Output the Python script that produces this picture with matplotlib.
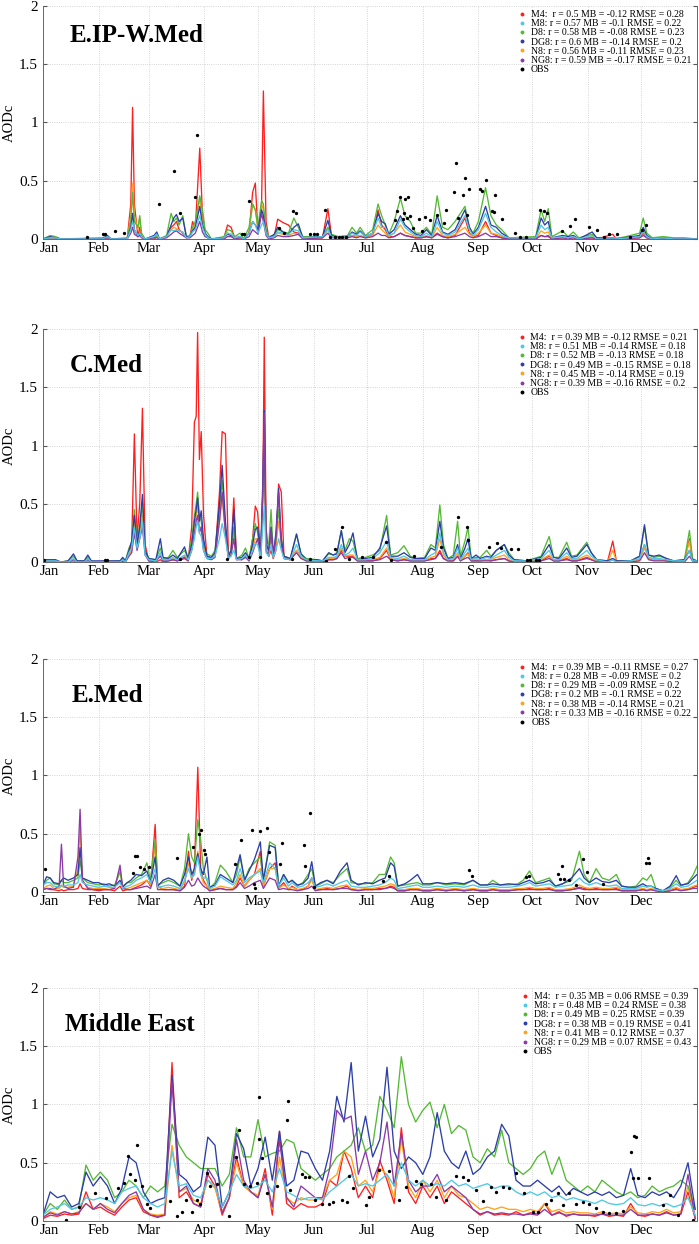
import numpy as np
import matplotlib
matplotlib.use('Agg')
import matplotlib.pyplot as plt
from matplotlib.lines import Line2D
from matplotlib.transforms import ScaledTranslation

plt.rcParams['font.family'] = ['Liberation Serif', 'DejaVu Serif']

# axe du temps (jour de l'annee)
month_days = [0, 31, 59, 90, 120, 151, 181, 212, 243, 273, 304, 334]
month_names = ['Jan', 'Feb', 'Mar', 'Apr', 'May', 'Jun',
               'Jul', 'Aug', 'Sep', 'Oct', 'Nov', 'Dec']

model_names = ['M4', 'M8', 'D8', 'DG8', 'N8', 'NG8']
model_colors = ['#ff1f1f', '#4fc8e6', '#55b935', '#2c3ea8', '#ffa31a', '#8b3aa6']

# ---------------- E.IP-W.Med ----------------
eip_days = [0, 4, 7, 10, 33, 36, 38, 47, 49, 50,
            51, 53, 54, 55, 57, 62, 63.5, 65, 69, 71.5,
            73, 74.5, 76, 78, 80, 82, 83.5, 85, 87.5, 89,
            90.5, 92, 94, 101, 103, 105, 107, 110, 112, 115,
            117, 118.5, 120, 122, 123, 124.5, 126, 129, 131, 134,
            137, 140, 142.5, 145, 156, 159, 161, 165, 170, 172.5,
            175, 177, 180, 184, 187, 189, 191, 193, 196, 199.5,
            202, 205, 208, 211, 214, 217, 220, 223, 226, 230,
            235.5, 238, 240, 243, 247, 250, 253, 256, 260, 275,
            278, 280, 282, 284, 290, 293, 296, 299, 306.5, 309,
            318, 320, 333, 335, 337, 340, 346, 352, 358, 365]
eip_m4 = [0, .01, .01, 0, 0, 0, 0, 0, .3, 1.13,
          .3, .02, .1, .02, 0, 0, .02, 0, .02, .1,
          .12, .15, .08, .05, .01, .02, .15, .08, .78, .2,
          .05, .01, 0, .01, .12, .1, .01, .01, 0, .05,
          .4, .48, .05, .3, 1.27, .15, .01, .02, .17, .14,
          .12, .06, .05, .01, .01, .26, .03, .01, .02, .03,
          .02, .03, .01, .03, .25, .12, .08, .02, .02, .05,
          .03, .02, .01, .01, .02, .01, .05, .02, .01, .03,
          .18, .05, .02, .03, .15, .05, .03, .01, 0, 0,
          .03, .02, .03, 0, .01, .01, .01, 0, .01, 0,
          .04, 0, .01, .05, .01, 0, .01, 0, 0, 0]
eip_m8 = [0, .01, .01, 0, 0, .02, 0, 0, .08, .15,
          .08, .03, .05, .02, 0, .02, .04, 0, .02, .08,
          .07, .08, .07, .06, .01, .02, .06, .08, .2, .1,
          .04, .01, 0, .01, .05, .04, .01, .02, 0, .05,
          .15, .12, .05, .12, .15, .05, .01, .02, .06, .05,
          .04, .08, .07, .01, .02, .08, .02, .01, .02, .05,
          .03, .06, .02, .05, .18, .1, .1, .03, .05, .17,
          .1, .06, .03, .02, .05, .02, .15, .05, .03, .06,
          .2, .08, .03, .08, .22, .1, .06, .03, .01, .01,
          .12, .08, .1, .01, .02, .01, .02, 0, .03, 0,
          0, 0, .02, .06, .02, 0, .01, 0, 0, 0]
eip_d8 = [0, .03, .02, 0, .01, .02, 0, .01, .15, .40,
          .15, .1, .2, .05, 0, .01, .03, 0, .03, .22,
          .15, .18, .12, .2, .02, .03, .1, .15, .37, .25,
          .08, .05, 0, .02, .08, .07, .02, .05, 0, .1,
          .3, .25, .1, .33, .3, .08, .02, .03, .08, .06,
          .05, .18, .1, .02, .02, .1, .04, .02, .03, .1,
          .05, .1, .03, .08, .3, .2, .12, .04, .15, .35,
          .2, .15, .05, .05, .1, .04, .37, .1, .08, .15,
          .28, .1, .05, .15, .44, .2, .12, .08, .01, .02,
          .25, .15, .26, .02, .07, .02, .06, .01, .04, .01,
          .01, 0, .05, .18, .05, .01, .02, .01, .01, 0]
eip_dg8 = [0, .02, .01, 0, 0, .03, 0, 0, .1, .22,
           .08, .02, .05, .02, 0, .03, .06, 0, .02, .12,
           .18, .21, .15, .18, .02, .02, .07, .1, .28, .12,
           .05, .02, 0, .01, .04, .03, .01, .02, 0, .05,
           .15, .12, .08, .25, .2, .05, .01, .04, .1, .06,
           .04, .1, .13, .01, .02, .16, .03, .01, .02, .06,
           .04, .07, .02, .05, .22, .15, .13, .04, .08, .2,
           .12, .08, .04, .03, .08, .03, .2, .06, .04, .08,
           .25, .1, .04, .1, .28, .12, .1, .05, .01, .01,
           .18, .12, .15, .01, .03, .02, .03, 0, .06, .01,
           0, 0, .03, .1, .03, 0, .01, 0, 0, 0]
eip_n8 = [0, .01, .01, 0, 0, .01, 0, 0, .2, .48,
          .2, .08, .18, .03, 0, .01, .02, 0, .02, .08,
          .1, .09, .07, .06, .01, .02, .08, .12, .35, .15,
          .05, .01, 0, .01, .05, .04, .01, .01, 0, .05,
          .3, .25, .08, .3, .25, .05, .01, .02, .05, .04,
          .03, .05, .04, .01, .01, .08, .02, .01, .01, .03,
          .02, .03, .01, .03, .12, .08, .05, .02, .05, .12,
          .06, .04, .02, .01, .03, .01, .1, .03, .02, .04,
          .1, .04, .02, .05, .12, .05, .04, .02, 0, 0,
          .07, .05, .06, 0, .01, .01, .01, 0, .02, 0,
          .01, .01, .02, .08, .02, 0, .01, 0, 0, 0]
eip_ng8 = [0, .01, .01, 0, 0, .01, 0, 0, .05, .10,
           .04, .02, .03, .01, 0, .01, .01, 0, .01, .04,
           .06, .07, .05, .03, .01, .01, .03, .05, .15, .06,
           .02, .01, 0, 0, .02, .02, 0, .01, 0, .02,
           .08, .06, .04, .22, .15, .03, 0, .01, .03, .02,
           .02, .03, .04, 0, .01, .05, .01, .01, .01, .02,
           .01, .02, .01, .02, .05, .03, .03, .01, .02, .05,
           .03, .02, .01, .01, .02, .01, .04, .02, .01, .02,
           .05, .02, .01, .02, .05, .02, .02, .01, 0, 0,
           .03, .02, .02, 0, .01, 0, .01, 0, .01, 0,
           0, 0, .01, .03, .01, 0, 0, 0, 0, 0]
eip_obs_days = [24.4, 33.7, 34.5, 40.2, 45.2, 64.5, 73, 76.4, 85, 86,
                111, 112, 115, 132, 134.6, 139.8, 141.3, 149, 151, 153,
                157.5, 160, 163, 165, 167, 169, 196.6, 197.6, 199.4, 200.9,
                201.3, 201.8, 203.1, 203.7, 205, 206.5, 209.7, 211.5, 213.4, 215.8,
                219.9, 223.6, 225.1, 229.6, 230.7, 231.5, 234.4, 235.7, 237.6, 236.5,
                244.1, 245, 247.5, 250.6, 251.9, 252.5, 256.2, 263.7, 266.5, 269.8,
                277.6, 279.5, 281.4, 289.7, 294.4, 297.2, 304.6, 309.3, 313, 315.8,
                320.5, 327.9, 334.4, 336.3]
eip_obs = [.02, .04, .04, .07, .05, .30, .58, .22, .36, .89,
           .04, .04, .33, .09, .05, .24, .22, .04, .04, .04,
           .25, .02, .02, .02, .02, .02, .16, .24, .36, .17,
           .22, .34, .18, .36, .20, .09, .17, .07, .19, .16,
           .21, .14, .25, .40, .65, .18, .38, .52, .43, .21,
           .43, .41, .51, .24, .23, .38, .17, .05, .02, .02,
           .25, .24, .22, .07, .11, .17, .10, .08, .02, .04,
           .04, .02, .08, .12]
eip_stats = ['r = 0.5 MB = -0.12 RMSE = 0.28', 'r = 0.57 MB = -0.1 RMSE = 0.22',
             'r = 0.58 MB = -0.08 RMSE = 0.23', 'r = 0.6 MB = -0.14 RMSE = 0.2',
             'r = 0.56 MB = -0.11 RMSE = 0.23', 'r = 0.59 MB = -0.17 RMSE = 0.21']

# ---------------- C.Med ----------------
cmed_days = [0, 7, 10, 14, 17, 19, 23, 25, 27, 43,
             44.5, 46, 48, 49.5, 51, 52.5, 54, 55.5, 57, 59,
             63, 65.5, 67, 70, 72.5, 75, 79, 81, 83, 84.5,
             85.5, 86.3, 87.3, 88.3, 89.6, 91.5, 94, 96, 98.5, 100,
             101.8, 103.5, 105, 106.5, 108, 111, 113, 115, 117, 118.5,
             119.8, 121.5, 122.7, 123.5, 124.5, 126, 127.3, 128.5, 130, 131.5,
             133, 134.5, 138, 141.5, 144, 147, 153, 156, 159.5, 162,
             164, 166.5, 168.5, 171, 173, 175.5, 180, 184, 188, 191.8,
             194, 198, 201.5, 205, 208, 213, 216.5, 219, 221.5, 223.5,
             226, 229, 231.4, 233, 235.5, 237.2, 239, 241.7, 244, 247.6,
             250, 253, 257.5, 260, 263, 270, 278, 282.5, 285, 288,
             292.3, 295, 298, 303.5, 306, 309, 315, 318, 320, 328,
             333, 335.7, 338, 341, 344, 348, 352, 358, 360.8, 362.5, 365]
cmed_m4 = [0, 0, 0, 0, 0, 0, 0, 0, 0, 0,
           .01, 0, .08, .15, 1.1, .2, .5, 1.32, .15, .01,
           0, .02, 0, .01, .02, .01, .03, .01, .3, 1.2,
           1.25, 1.97, .88, 1.12, .4, .05, .03, .05, .6, 1.12,
           1.1, .05, .1, .55, .03, .02, .05, .01, .2, .48,
           .43, .05, .6, 1.93, .3, .05, .1, .03, .1, .67,
           .6, .05, .02, .1, .04, .01, .01, 0, .02, .02,
           .03, .1, .05, .05, .05, .01, .01, .01, .03, .1,
           .02, .01, .02, .01, .01, .01, .03, .03, .1, .03,
           .01, .01, .05, .01, .05, .08, .01, .01, .01, .02,
           .01, .02, .03, .01, 0, 0, .01, .05, .01, .01,
           .03, .01, .01, .04, .02, .01, 0, .18, .01, 0,
           .02, .15, .03, .02, .02, .01, 0, .01, .2, .02, 0]
cmed_m8 = [.01, .01, 0, 0, .03, 0, 0, .03, 0, 0,
           .02, 0, .08, .12, .3, .12, .2, .35, .06, .02,
           .01, .08, .02, .02, .04, .02, .06, .02, .1, .2,
           .3, .35, .25, .22, .1, .03, .03, .05, .2, .33,
           .2, .03, .05, .1, .02, .03, .06, .02, .1, .16,
           .15, .04, .3, .48, .08, .05, .15, .04, .1, .2,
           .1, .03, .02, .15, .05, .02, .01, .01, .04, .04,
           .05, .15, .06, .08, .12, .02, .02, .03, .08, .18,
           .04, .03, .05, .02, .02, .02, .06, .08, .25, .08,
           .02, .03, .12, .02, .08, .12, .02, .03, .02, .04,
           .03, .06, .1, .04, .01, .01, .03, .1, .02, .02,
           .08, .03, .03, .1, .05, .02, 0, .02, 0, .01,
           .03, .15, .04, .03, .03, .02, .01, .01, .1, .01, .01]
cmed_d8 = [.01, .01, 0, .01, .05, .01, .01, .04, 0, .01,
           .03, .01, .12, .17, .45, .18, .3, .5, .1, .03,
           .02, .12, .03, .04, .1, .04, .1, .03, .2, .4,
           .5, .6, .4, .35, .15, .07, .05, .1, .45, .7,
           .3, .05, .1, .3, .03, .06, .12, .03, .2, .33,
           .25, .06, .6, 1.0, .15, .15, .45, .08, .2, .45,
           .2, .05, .03, .24, .07, .03, .02, .01, .07, .06,
           .08, .27, .1, .2, .18, .03, .04, .06, .1, .4,
           .06, .08, .14, .05, .03, .04, .15, .12, .49, .15,
           .03, .06, .35, .05, .18, .3, .03, .04, .04, .1,
           .05, .1, .15, .08, .02, .01, .05, .22, .04, .04,
           .17, .05, .06, .17, .08, .02, .01, .03, .01, .01,
           .05, .3, .06, .04, .05, .03, .01, .02, .27, .03, .01]
cmed_dg8 = [.02, .02, 0, .01, .07, .01, .01, .06, .01, .01,
            .04, .01, .1, .18, .4, .15, .3, .58, .1, .03,
            .02, .2, .04, .03, .06, .03, .13, .03, .15, .35,
            .45, .55, .35, .44, .2, .05, .04, .08, .5, .83,
            .35, .05, .1, .45, .03, .04, .08, .03, .15, .28,
            .3, .06, .7, 1.3, .15, .1, .3, .06, .25, .63,
            .2, .05, .03, .24, .07, .02, .02, .01, .08, .06,
            .07, .27, .08, .15, .25, .02, .03, .04, .12, .31,
            .05, .05, .08, .04, .03, .03, .12, .1, .35, .12,
            .03, .04, .15, .03, .12, .2, .03, .06, .03, .05,
            .04, .1, .15, .06, .02, .01, .04, .15, .04, .03,
            .12, .04, .05, .15, .08, .02, .01, .03, .01, .01,
            .05, .32, .06, .05, .06, .03, .01, .02, .1, .02, .01]
cmed_n8 = [0, .01, 0, 0, .02, 0, 0, .02, 0, 0,
           .02, 0, .06, .1, .35, .12, .25, .4, .08, .02,
           .01, .06, .02, .02, .03, .02, .05, .02, .12, .3,
           .4, .48, .3, .3, .12, .04, .03, .05, .35, .55,
           .25, .03, .08, .25, .02, .03, .06, .02, .12, .2,
           .2, .04, .5, .8, .1, .06, .2, .04, .15, .35,
           .15, .03, .02, .1, .04, .01, .01, 0, .03, .03,
           .04, .12, .05, .06, .06, .01, .02, .02, .04, .12,
           .03, .02, .03, .02, .01, .01, .04, .05, .2, .06,
           .01, .02, .08, .01, .05, .07, .01, .02, .01, .02,
           .02, .04, .06, .02, 0, 0, .02, .06, .01, .01,
           .05, .02, .02, .06, .03, .01, 0, .1, .01, 0,
           .02, .12, .03, .02, .02, .01, 0, .01, .18, .01, 0]
cmed_ng8 = [.01, .01, 0, 0, .02, 0, 0, .02, 0, 0,
            .01, 0, .05, .08, .25, .1, .2, .3, .06, .01,
            .01, .05, .01, .01, .02, .01, .04, .01, .1, .25,
            .35, .4, .25, .3, .1, .03, .02, .04, .35, .6,
            .25, .03, .06, .2, .02, .02, .04, .01, .08, .15,
            .2, .04, .6, 1.28, .1, .05, .28, .04, .2, .6,
            .15, .03, .02, .08, .03, .01, .01, 0, .02, .02,
            .03, .08, .03, .04, .04, .01, .01, .01, .02, .05,
            .02, .01, .02, .01, .01, .01, .02, .03, .08, .03,
            .01, .01, .05, .01, .03, .04, .01, .01, .01, .01,
            .01, .02, .03, .01, 0, 0, .01, .03, .01, .01,
            .02, .01, .01, .03, .02, 0, 0, .02, 0, 0,
            .01, .08, .02, .01, .01, .01, 0, 0, .05, .01, 0]
cmed_obs_days = [0.5, 34.7, 36, 76.6, 102.6, 115, 121, 139, 149.2, 158,
                 163, 167, 171, 178, 184, 191.4, 194, 207, 222, 231.4,
                 236.4, 237, 248.7, 253.5, 255.6, 261, 265, 270, 272, 275, 277]
cmed_obs = [.02, .02, .02, .03, .03, .04, .04, .03, .03, .01,
            .11, .30, .03, .04, .04, .17, .02, .05, .13, .39,
            .30, .19, .13, .16, .12, .11, .11, .02, .02, .02, .02]
cmed_stats = ['r = 0.39 MB = -0.12 RMSE = 0.21', 'r = 0.51 MB = -0.14 RMSE = 0.18',
              'r = 0.52 MB = -0.13 RMSE = 0.18', 'r = 0.49 MB = -0.15 RMSE = 0.18',
              'r = 0.45 MB = -0.14 RMSE = 0.19', 'r = 0.39 MB = -0.16 RMSE = 0.2']

# ---------------- E.Med ----------------
emed_days = [0, 2, 4, 6, 9, 10.3, 11.5, 14, 17, 19.5,
             20.7, 22, 25, 28, 31, 34, 37, 40, 43, 44.5,
             47, 49, 52, 55, 58, 60, 62.6, 64, 67, 70,
             73, 76.5, 79, 81.2, 83, 84.5, 86.4, 88, 89.5, 91.5,
             93, 96, 99, 102, 106, 108, 110, 112.5, 115, 118,
             121.3, 123, 126.5, 129.6, 131.5, 134.3, 137, 139, 142, 145,
             148, 150, 152, 155, 158.5, 162, 166, 169.7, 172, 176,
             180, 184, 187.7, 191, 194, 196, 198, 202, 205, 209,
             212, 216, 220, 225, 230, 235, 240, 244, 248, 251,
             255, 260, 265, 268, 271.5, 275, 279, 282.6, 286, 290,
             295, 299.4, 302, 305, 308.7, 312, 316, 320, 323, 327,
             331, 334.8, 337, 339.4, 342, 346, 350, 353.4, 356, 360, 363, 365]
emed_m4 = [.02, .03, .02, .02, .01, .02, .01, .02, .02, .03,
           .07, .03, .02, .02, .01, .02, .02, .01, .05, .01,
           .02, .02, .04, .06, .1, .05, .58, .05, .02, .02,
           .02, .01, .05, .35, .1, .2, 1.07, .2, .1, .05,
           .01, .02, .03, .02, .02, .05, .12, .05, .1, .15,
           .35, .05, .2, .25, .03, .08, .02, .05, .02, .02,
           .05, .12, .02, .02, .03, .02, .03, .05, .02, .02,
           .02, .02, .03, .03, .05, .04, .01, .01, .02, .02,
           .01, .01, .02, .01, .02, .01, .02, .01, .01, .02,
           .01, .01, .02, .02, .03, .02, .02, .03, .01, .01,
           .02, .04, .03, .02, .03, .02, .02, .03, .01, .01,
           .01, .02, .02, .02, .01, 0, .01, .03, .02, .02, .04, .05]
emed_m8 = [.06, .08, .08, .05, .04, .06, .05, .06, .06, .08,
           .15, .08, .06, .05, .04, .05, .04, .04, .08, .03,
           .05, .06, .1, .12, .15, .08, .2, .04, .05, .06,
           .05, .03, .1, .2, .12, .15, .3, .15, .12, .12,
           .03, .05, .13, .1, .06, .1, .2, .08, .12, .15,
           .18, .08, .25, .2, .05, .12, .05, .08, .04, .05,
           .08, .12, .04, .05, .07, .05, .08, .1, .05, .04,
           .04, .05, .06, .08, .12, .1, .03, .04, .05, .06,
           .04, .04, .05, .04, .05, .04, .06, .04, .04, .05,
           .04, .04, .05, .06, .08, .05, .06, .07, .04, .05,
           .06, .12, .08, .06, .08, .06, .05, .06, .03, .03,
           .03, .05, .04, .05, .02, .01, .03, .07, .04, .05, .08, .1]
emed_d8 = [.05, .1, .12, .07, .06, .1, .08, .08, .1, .12,
           .27, .12, .08, .07, .06, .07, .05, .06, .17, .05,
           .08, .08, .12, .15, .25, .1, .45, .06, .08, .1,
           .08, .05, .2, .5, .3, .25, .62, .45, .2, .1,
           .03, .08, .23, .18, .08, .15, .3, .1, .2, .25,
           .3, .1, .43, .4, .05, .15, .08, .1, .05, .08,
           .15, .2, .05, .07, .1, .08, .15, .2, .08, .07,
           .07, .08, .15, .15, .3, .25, .05, .06, .07, .08,
           .06, .06, .08, .06, .07, .06, .1, .06, .06, .1,
           .06, .06, .07, .1, .18, .08, .1, .12, .05, .07,
           .1, .35, .15, .08, .2, .12, .1, .15, .05, .04,
           .05, .12, .1, .15, .03, .01, .04, .1, .05, .08, .15, .22]
emed_dg8 = [.06, .13, .12, .08, .07, .1, .12, .1, .12, .15,
            .38, .12, .1, .08, .08, .06, .07, .05, .1, .04,
            .08, .1, .15, .14, .18, .08, .3, .05, .1, .12,
            .1, .05, .15, .3, .15, .2, .33, .2, .15, .3,
            .04, .06, .15, .12, .08, .2, .32, .1, .18, .28,
            .43, .1, .4, .38, .05, .15, .08, .1, .06, .07,
            .12, .26, .05, .08, .1, .07, .18, .25, .1, .06,
            .08, .07, .1, .12, .25, .22, .05, .07, .1, .15,
            .07, .07, .08, .07, .08, .07, .1, .06, .06, .07,
            .06, .07, .06, .08, .1, .07, .08, .1, .05, .07,
            .12, .2, .12, .08, .12, .09, .08, .1, .05, .04,
            .04, .07, .05, .05, .03, .01, .05, .14, .06, .07, .12, .15]
emed_n8 = [.03, .05, .06, .03, .03, .05, .04, .04, .05, .2,
           .55, .1, .04, .03, .03, .03, .02, .03, .2, .03,
           .03, .04, .06, .08, .1, .06, .4, .04, .03, .04,
           .03, .02, .08, .25, .12, .15, .35, .15, .08, .05,
           .02, .03, .05, .04, .03, .08, .15, .05, .1, .15,
           .2, .05, .2, .2, .03, .06, .03, .04, .02, .03,
           .05, .1, .02, .03, .04, .03, .05, .06, .03, .02,
           .03, .03, .04, .05, .07, .06, .02, .02, .03, .03,
           .02, .02, .03, .02, .03, .02, .03, .02, .02, .03,
           .02, .02, .03, .03, .04, .03, .03, .04, .02, .02,
           .03, .06, .04, .03, .04, .03, .03, .04, .02, .02,
           .02, .03, .02, .03, .01, 0, .02, .04, .02, .03, .05, .06]
emed_ng8 = [.02, .03, .03, .02, .05, .41, .05, .03, .04, .3,
            .71, .1, .03, .02, .02, .02, .02, .03, .23, .03,
            .02, .02, .03, .04, .05, .03, .15, .02, .02, .02,
            .02, .01, .04, .1, .05, .06, .12, .08, .05, .03,
            .01, .02, .03, .02, .02, .04, .08, .03, .05, .08,
            .1, .03, .12, .1, .02, .03, .02, .02, .01, .02,
            .03, .05, .01, .02, .02, .02, .03, .03, .02, .01,
            .02, .02, .02, .03, .04, .03, .01, .01, .02, .02,
            .01, .01, .02, .01, .02, .01, .02, .01, .01, .02,
            .01, .01, .02, .02, .02, .02, .02, .02, .01, .01,
            .02, .03, .02, .02, .02, .02, .02, .02, .01, .01,
            .01, .02, .01, .02, .01, 0, .01, .02, .01, .02, .03, .03]
emed_obs_days = [1.1, 50.5, 51.4, 52.5, 54.2, 56.5, 59, 74.7, 84, 86.8,
                 88.3, 89.6, 90.5, 107, 110.4, 116.6, 117.5, 118.5, 121.3, 125,
                 126, 132.5, 133.4, 145.5, 146.5, 149.2, 151, 189.5, 193.2, 238,
                 239.4, 269.6, 271.5, 287.5, 288.6, 289.7, 291, 293.4, 297.5, 301.3,
                 303.5, 312.5, 336.6, 337.5, 338.5]
emed_obs = [.20, .16, .31, .31, .21, .20, .21, .29, .39, .50,
            .53, .36, .33, .24, .45, .53, .07, .03, .52, .55,
            .34, .24, .42, .40, .22, .68, .04, .09, .14, .19,
            .14, .13, .14, .15, .11, .22, .11, .10, .06, .28,
            .17, .07, .25, .29, .25]
emed_stats = ['r = 0.39 MB = -0.11 RMSE = 0.27', 'r = 0.28 MB = -0.09 RMSE = 0.2',
              'r = 0.29 MB = -0.09 RMSE = 0.2', 'r = 0.2 MB = -0.1 RMSE = 0.22',
              'r = 0.38 MB = -0.14 RMSE = 0.21', 'r = 0.33 MB = -0.16 RMSE = 0.22']

# ---------------- Middle East (un point tous les 4 jours) ----------------
me_days = list(range(0, 365, 4))
me_m4 = [0.02, 0.05, 0.04, 0.06, 0.05, 0.06, 0.25, 0.10,
         0.12, 0.08, 0.05, 0.12, 0.18, 0.20, 0.08,
         0.05, 0.03, 0.05, 1.36, 0.20, 0.25, 0.15, 0.12,
         0.40, 0.30, 0.05, 0.20, 0.55, 0.30, 0.25,
         0.20, 0.45, 0.05, 0.77, 0.15, 0.10, 0.15, 0.12,
         0.12, 0.15, 0.35, 0.30, 0.60, 0.45, 0.20, 0.30,
         0.20, 0.52, 0.35, 0.15, 0.80, 0.25, 0.15,
         0.30, 0.20, 0.30, 0.15, 0.25, 0.20, 0.15, 0.10,
         0.05, 0.08, 0.05, 0.06, 0.05, 0.08, 0.05, 0.07,
         0.06, 0.15, 0.05, 0.08, 0.04, 0.06, 0.05,
         0.05, 0.04, 0.06, 0.04, 0.05, 0.04, 0.15, 0.05,
         0.04, 0.06, 0.05, 0.08, 0.05, 0.06, 0.25, 0.02]
me_m8 = [0.05, 0.10, 0.12, 0.15, 0.10, 0.12, 0.20, 0.18,
         0.20, 0.18, 0.15, 0.25, 0.28, 0.30, 0.20,
         0.15, 0.12, 0.15, 0.60, 0.30, 0.32, 0.22, 0.20,
         0.35, 0.30, 0.12, 0.25, 0.40, 0.30, 0.28,
         0.30, 0.35, 0.25, 0.45, 0.25, 0.22, 0.18, 0.20,
         0.20, 0.18, 0.25, 0.30, 0.35, 0.40, 0.30, 0.32,
         0.30, 0.35, 0.40, 0.30, 0.50, 0.35, 0.30,
         0.35, 0.30, 0.32, 0.30, 0.35, 0.30, 0.32, 0.28,
         0.30, 0.32, 0.28, 0.30, 0.30, 0.25, 0.22, 0.25,
         0.22, 0.25, 0.20, 0.22, 0.18, 0.20, 0.18,
         0.17, 0.15, 0.18, 0.15, 0.14, 0.15, 0.20, 0.14,
         0.13, 0.15, 0.13, 0.15, 0.12, 0.14, 0.20, 0.05]
me_d8 = [0.05, 0.15, 0.10, 0.18, 0.10, 0.12, 0.48, 0.35,
         0.42, 0.35, 0.20, 0.25, 0.35, 0.30, 0.20,
         0.30, 0.25, 0.30, 0.83, 0.65, 0.55, 0.50, 0.45,
         0.45, 0.45, 0.30, 0.40, 0.80, 0.55, 0.55,
         0.87, 0.55, 0.58, 0.60, 0.70, 0.67, 0.45, 0.40,
         0.35, 0.40, 0.45, 0.55, 0.60, 0.65, 0.80, 0.60,
         0.65, 1.07, 0.95, 0.80, 1.41, 1.00, 0.85,
         0.95, 1.02, 0.80, 1.00, 0.75, 0.82, 0.78, 0.55,
         0.50, 0.62, 0.55, 0.78, 0.50, 0.45, 0.40, 0.45,
         0.55, 0.60, 0.40, 0.55, 0.35, 0.30, 0.25,
         0.30, 0.25, 0.35, 0.30, 0.25, 0.22, 0.25, 0.20,
         0.22, 0.30, 0.25, 0.28, 0.30, 0.35, 0.30, 0.10]
me_dg8 = [0.05, 0.25, 0.20, 0.22, 0.12, 0.15, 0.42, 0.30,
          0.38, 0.30, 0.15, 0.28, 0.55, 0.50, 0.25,
          0.15, 0.18, 0.20, 1.25, 0.40, 0.35, 0.25, 0.30,
          0.72, 0.65, 0.12, 0.25, 0.75, 0.62, 0.30,
          0.45, 0.72, 0.35, 0.77, 0.30, 0.35, 0.60, 0.58,
          0.45, 0.35, 0.60, 1.07, 0.85, 1.36, 0.60, 0.90,
          0.55, 0.70, 1.32, 0.60, 0.45, 0.55, 0.50,
          0.40, 0.55, 0.93, 0.60, 0.50, 0.45, 0.60, 0.40,
          0.45, 0.55, 0.60, 0.83, 0.73, 0.35, 0.30, 0.30,
          0.35, 0.30, 0.25, 0.30, 0.22, 0.28, 0.25,
          0.22, 0.25, 0.22, 0.25, 0.20, 0.22, 0.45, 0.22,
          0.20, 0.25, 0.22, 0.25, 0.20, 0.30, 0.50, 0.10]
me_n8 = [0.03, 0.08, 0.06, 0.08, 0.06, 0.08, 0.15, 0.10,
         0.15, 0.12, 0.08, 0.15, 0.20, 0.22, 0.10,
         0.06, 0.05, 0.06, 0.65, 0.25, 0.28, 0.18, 0.15,
         0.35, 0.28, 0.08, 0.20, 0.50, 0.30, 0.25,
         0.22, 0.40, 0.10, 0.55, 0.20, 0.15, 0.20, 0.18,
         0.18, 0.20, 0.35, 0.40, 0.60, 0.55, 0.30, 0.35,
         0.25, 0.45, 0.40, 0.20, 0.70, 0.30, 0.20,
         0.35, 0.25, 0.35, 0.20, 0.30, 0.22, 0.20, 0.15,
         0.10, 0.12, 0.10, 0.12, 0.10, 0.10, 0.08, 0.10,
         0.08, 0.15, 0.08, 0.10, 0.07, 0.08, 0.07,
         0.07, 0.06, 0.08, 0.06, 0.07, 0.06, 0.12, 0.07,
         0.06, 0.08, 0.07, 0.10, 0.07, 0.08, 0.30, 0.03]
me_ng8 = [0.03, 0.07, 0.05, 0.08, 0.06, 0.07, 0.15, 0.10,
          0.15, 0.10, 0.07, 0.15, 0.22, 0.25, 0.10,
          0.05, 0.04, 0.05, 1.20, 0.25, 0.30, 0.15, 0.12,
          0.45, 0.35, 0.07, 0.20, 0.70, 0.35, 0.25,
          0.20, 0.40, 0.12, 0.70, 0.20, 0.12, 0.30, 0.25,
          0.20, 0.20, 0.45, 0.95, 0.87, 0.90, 0.40, 0.60,
          0.35, 0.50, 0.85, 0.30, 0.75, 0.35, 0.25,
          0.30, 0.30, 0.40, 0.25, 0.30, 0.25, 0.20, 0.10,
          0.06, 0.08, 0.06, 0.07, 0.06, 0.06, 0.05, 0.06,
          0.05, 0.10, 0.05, 0.07, 0.05, 0.06, 0.05,
          0.05, 0.05, 0.06, 0.05, 0.05, 0.05, 0.10, 0.05,
          0.05, 0.06, 0.05, 0.07, 0.05, 0.06, 0.40, 0.02]
me_obs_days = [13, 20, 29, 35, 42, 45, 47.7, 48.6, 51.4, 52.7,
               55, 58, 59.8, 71, 74.7, 77.5, 80, 83, 85.9, 87.7,
               91.5, 93.3, 97, 103.6, 108, 109.6, 112, 115.7, 119.4, 120.3,
               120.8, 122.2, 125, 130.6, 136.2, 137, 138, 144.5, 146.4, 148.3,
               152, 155.7, 159.4, 162, 167, 169.7, 171, 172.8, 180.2, 182,
               187.7, 193.2, 198.8, 202.6, 208.1, 211, 216.5, 219.3, 224.9, 230.5,
               234.2, 237, 241.7, 245.4, 250, 252.8, 256.6, 260.3, 264, 268.7,
               273.3, 276, 280.8, 283.6, 287.3, 290, 293.8, 297.5, 301.3, 305,
               308.7, 312.4, 316.1, 319.9, 323.6, 328, 329.2, 330, 331, 332,
               338.5, 346, 349.7, 354.3, 362.7]
me_obs = [.01, .12, .24, .20, .28, .33, .56, .40, .35, .65,
          .30, .15, .11, .17, .04, .08, .18, .08, .18, .15,
          .41, .30, .32, .04, .55, .78, .32, .30, .33, 1.06,
          .70, .54, .24, .30, .87, 1.03, .27, .40, .38, .38,
          .18, .15, .15, .16, .18, .16, .39, .28, .14, .21,
          .44, .43, .18, .29, .34, .32, .32, .21, .18, .39,
          .38, .35, .27, .17, .29, .25, .29, .28, .41, .24,
          .08, .08, .15, .18, .24, .14, .24, .15, .16, .15,
          .11, .08, .07, .07, .09, .59, .37, .73, .72, .37,
          .37, .14, .22, .05, .01]
me_stats = ['r = 0.35 MB = 0.06 RMSE = 0.39', 'r = 0.48 MB = 0.24 RMSE = 0.38',
            'r = 0.49 MB = 0.25 RMSE = 0.39', 'r = 0.38 MB = 0.19 RMSE = 0.41',
            'r = 0.41 MB = 0.12 RMSE = 0.37', 'r = 0.29 MB = 0.07 RMSE = 0.43']

panels = [
    ('E.IP-W.Med', eip_days, [eip_m4, eip_m8, eip_d8, eip_dg8, eip_n8, eip_ng8],
     eip_obs_days, eip_obs, eip_stats),
    ('C.Med', cmed_days, [cmed_m4, cmed_m8, cmed_d8, cmed_dg8, cmed_n8, cmed_ng8],
     cmed_obs_days, cmed_obs, cmed_stats),
    ('E.Med', emed_days, [emed_m4, emed_m8, emed_d8, emed_dg8, emed_n8, emed_ng8],
     emed_obs_days, emed_obs, emed_stats),
    ('Middle East', me_days, [me_m4, me_m8, me_d8, me_dg8, me_n8, me_ng8],
     me_obs_days, me_obs, me_stats),
]

# mise en page (fractions de la figure)
ax_left, ax_width, ax_height = 0.0615, 0.9356, 0.1873
ax_bottoms = [0.8079, 0.5482, 0.2830, 0.0185]
title_x = [0.041, 0.041, 0.044, 0.034]
title_y = [0.847, 0.817, 0.816, 0.815]
draw_order = [0, 4, 2, 3, 5, 1]

fig = plt.figure(figsize=(6.99, 12.44), dpi=100)

for i, (name, days, series, obs_days, obs_vals, stats) in enumerate(panels):
    ax = fig.add_axes([ax_left, ax_bottoms[i], ax_width, ax_height])
    for k in draw_order:
        ax.plot(days, series[k], color=model_colors[k], lw=0.95)
    ax.plot(obs_days, obs_vals, ls='none', marker='o', ms=2.4, mew=0, color='k')

    ax.set_xlim(0, 365)
    ax.set_ylim(0, 2)
    ax.set_xticks(month_days)
    ax.set_xticklabels(month_names)
    ax.set_yticks([0, 0.5, 1, 1.5, 2])
    ax.set_yticklabels(['0', '0.5', '1', '1.5', '2'])
    ax.grid(True, ls=':', color='#c8c8c8', lw=0.6)
    ax.tick_params(axis='y', direction='in', length=3, right=True,
                   labelsize=11, pad=3.5, color='#555555')
    ax.tick_params(axis='x', length=0, labelsize=10.5, pad=2)
    # "Jan" decale a droite pour ne pas toucher le "0" de l'axe y
    jan = ax.xaxis.get_major_ticks()[0].label1
    jan.set_horizontalalignment('left')
    jan.set_transform(jan.get_transform() +
                      ScaledTranslation(-0.03, 0, fig.dpi_scale_trans))
    ax.spines['top'].set_visible(False)
    for s in ['left', 'right', 'bottom']:
        ax.spines[s].set_color('#666666')
        ax.spines[s].set_linewidth(0.7)
    ax.set_ylabel('AODc', fontsize=10.5)
    ax.yaxis.set_label_coords(-0.042, 0.5)
    ax.text(title_x[i], title_y[i], name, transform=ax.transAxes,
            fontsize=18, fontweight='bold', va='baseline')

    handles = [Line2D([], [], ls='none', marker='o', ms=2.8, mew=0, color=c)
               for c in model_colors]
    handles.append(Line2D([], [], ls='none', marker='o', ms=2.8, mew=0, color='k'))
    labels = []
    for n, s in zip(model_names, stats):
        sep = ':  ' if n == 'M4' else ': '
        labels.append(n + sep + s)
    labels.append('OBS')
    ax.legend(handles, labels, loc='upper right', bbox_to_anchor=(0.991, 0.983),
              frameon=False, fontsize=7.0, borderpad=0, borderaxespad=0,
              handlelength=0.8, handletextpad=0.5, labelspacing=0.02)

fig.savefig('out.png', dpi=100)
